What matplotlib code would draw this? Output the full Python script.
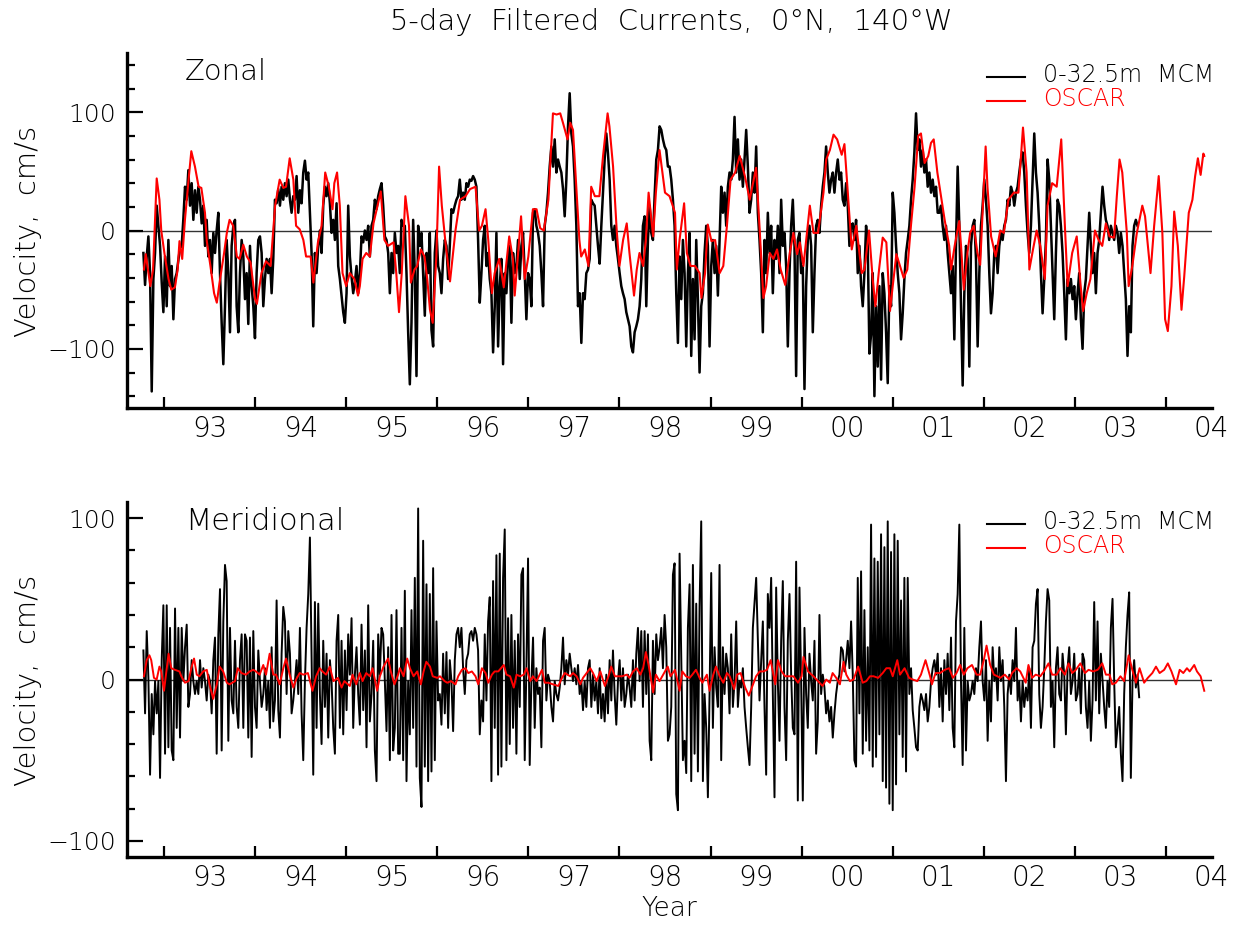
import numpy as np
import matplotlib
matplotlib.use("Agg")
from matplotlib import pyplot as plt
from matplotlib.lines import Line2D

plt.rcParams['font.family'] = ['DejaVu Sans']
plt.rcParams['font.weight'] = 'light'

# 0-32.5m MCM series, regular time step starting at MCM_T0 (decimal years)
MCM_T0 = 1992.274
MCM_STEP = 0.01828

zonal_mcm = [
    -19, -46, -22, -5, -36, -136, -41, -19, 21, 4, -13, -44, -69, -22, -64, -8, -47, -30, -75, -41, -36,
    -25, -15, -13, 10, 37,
    26, 51, 21, 40, 9, 34, 15, 37, 26, 6, 21, -13, 9, -22, -8, -36, -2, -19, 0, 15,
    -36, -78, -113, -64, -8, -36, -86, -13, 4, 9, -64, -86, -36, -8, -22, -58, -36, -79, -13, -47,
    -64, -91, -36, -8, -5, -19, -64, -41, -24, -36, -24, -53, -24, 26, 23, 35, 21, 37, 26, 40,
    29, 43, 26, 15, 29, 26, 46, 15, 34, 23, 49, 59, 43, 49, 15, -19, -81, -19, -36, -13,
    0, -19, 21, 37, 29, 40, 23, -2, 9, -8, 23, -30, -41, -55, -69, -78, -53, 21, -22, -39,
    -53, -44, -30, -53, -36, -5, -10, 0, -8, 4, -22, 4, 9, 26, 18, 29, 35, 40, 21, -5,
    -8, -19, -53, -19, -36, -2, -19, -13,
    -36, 9, 4, 4, -36, -86, -130, -78, 9, -36, -123, 4, -13, -2, -36, -72, -19, -36, -2, -84,
    -98, -19, 0, -30, -36, -53, -24, -8, -13, -41, -13, 18, 15, 21, 26, 29, 43, 26, 32, 26,
    40, 37, 43, 42, 46, 43, 37, -8, -61, -36, -8, 4, -30, -19, -41, -53, -103, -64, -2, -98,
    -47, -24, -113, -36, -53, -24, -13, -78, -19, -36, -30, -8, -41, -13, -2, -36, -75, -36, -41, -64,
    15, 18, 4, -2, -13, -36, -64, 4, 15, 32, 54, 71, 54, 77, 49, 60, 54, 49, 35, 12,
    43, 88, 116, 82, 71, 43, 4, -64, -53, -95, -53, -58, -36, -33, -24, 26, 23, 21, 4, -13,
    -28, 4, 32, 60, 82, 65, 43, 4, -8, 4, -13, -24, -36, -47, -53, -58, -69, -75, -81, -98,
    -103, -86, -81, -75, -64, -41, 4, 12, -64, -8, 21, -2, -8, 29, 60, 68, 88, 85, 77, 71,
    68, 54,
    54, 43, 26, 4, -53, -95, -22, -58, -8, -36, -98, -36, -2, -106, -41, -92, -8, -58, -120, -64,
    -53, -19, 4, -13, -98, -30, -8, -36, -13, -55, -8, 37, 15, 32, 4, 37, 49, 43, 60, 96,
    49, 77, 43, 60, 37, 60, 85, 54, 15, 26, 49, 32, 71, 15, -8, -36, -86, -8, -36, 15,
    -19, 4, -53, -8, -24, 4, -36, 26, -13, -2, -30, -98, -36, 4, 26, -13, -123, -8, -2, -36,
    -30, -134, -47, -8, 4, -13, -86, -36, 4, 9, -2, 21, 37, 49, 71, 49, 32, 43, 49, 32,
    49, 60, 43, 49, 26, 21, 40, 21, -13, 4, 6, -8, 9, -36, -13, -47, -64, -36, 4, -13,
    -104, -88, -36, -140, -64, -115, -47, -126, -36, -53, -86, -129, -47, -64, 32, 15, -13, -36, -53, -92,
    -70, -41, -19, -8, 4, 26, 43, 66, 99, 68, 77, 54, 68, 49, 60, 37, 49, 32, 43, 29,
    37, 15,
    15, 21, 4, -8, 4, -19, -36, -53, -30, -92, -13, 54, 4, -64, -131, -53, -13, -24, -115, -13,
    4, 9, -24, -98, -36, 4, 21, 43, 26, 4, -36, -70, -53, -19, -13, -36, -13, -2, -8, 4,
    9, 26, 21, 37, 32, 21, 32, 37, 49, 60, 66, 49, 21, -2, -19, 4, 43, 82, 49, 32,
    4, -36, -70, -41, -8, 60, 43, 4, -36, -75, -19, 26, 21, 4, -19, -53, -92, -41, -53, -41,
    -58, -47, -75, -53, -36, -75, -100, -53, -41, -13, 15, -13, -36, -19, -53, -19, -8, 15, 37, 21,
    9, 4, -8, 4, -2, -8, 4, -2, -19, -2, -13, -36, -58, -106, -64, -86, -13, 4, 9, 4,
]

merid_mcm = [
    18, -21, 30, 1, -59, -9, -34, -1, -21, -1, -61, 12, 46, -46, 46, -42, 32, -44, -50, 44,
    -30, 32, -36, 32, -1, 20, 34, -17, -9, 12, -1, -9, -1, -9, 12, -5, 7, -1, -13, 3,
    -1, -21, 12, 26, -46, 28, 56, -44, 36, 71, 61, -38, 32, -13, -21, 24, -17, -30, 12, 28,
    -30, 28, 24, -36, 26, -48, 30, -17, -30, 18, -1, -17, -9, 7, -19, -1, -30, 20, -26, -13,
    49, -19, -36, 16, 45, 36, -9, 30, 16, -21, -13, -1, 12, -9, 32, -21, -50, -1, 32, 53,
    88, 12, -59, 48, -30, 47, -9, -40, 24, -17, 16, -36, 12, -1, -30, -46, 24, 40, -30, 24,
    -34, 18, -19, 28, 3, 38, -30, 3, 20, -9, -28, 34, -19, 18, -42, 46, -26, -9, 24, -44,
    -63, 28, 3, 32, 28, -1, -32, 20, -50, 40, -44, -30, 43, -46,
    -46, 32, -50, 55, -63, -1, -34, 43, -30, 63, -54, 106, -61, -79, 86, -54, 59, -63, 53, -57,
    69, -50, 36, -13, -9, -28, 16, -21, 17, -30, 12, -1, -32, 12, 28, 32, 20, 32, 7, -9,
    12, 16, 28, 30, 24, 32, 28, 18, -34, -13, -26, 28, -13, 36, 51, -63, 61, -30, 77, -59,
    78, -54, 63, 93, -50, 38, -40, 40, -30, 24, -46, 28, -17, 65, 69, -50, 7, 75, -53, -1,
    26, -30, 7, -9, -5, -42, 24, 32, -13, 3, -1, -17, -26, -1, -9, -13, -5, 7, 26, -3,
    12, 3, 16, 7, -1, 7, -3, 9, -9, -1, -19, -1, -17, 7, 12, -17, 3, -13, -1, -21,
    7, -24, -9, -26, 3, -21, 12, -13, 18, -9, -28, -1, 12, -13, 7, -17, -9, 3, -5, -17,
    12, -13, 16, 32, -1, 30, -17, 30, -9, 28, -38, -50, 24, -9, 28, 12, 20, 32, 7, 40,
    20, -38,
    -34, -17, 65, 72, -71, -81, 78, 12, -50, -38, -58, 32, 59, -63, 71, -46, 47, -57, 45, 98,
    -63, -9, -30, -73, -9, 66, -30, 20, -5, -17, 71, -50, 20, -9, 16, 7, -21, 28, -17, -1,
    36, -17, -1, -5, 7, -17, -30, -42, -53, -17, 32, 47, 63, 24, -13, 12, 36, -17, -59, 53,
    32, 63, -9, -73, 57, -1, -38, 24, 61, -17, -50, 24, 53, 3, -30, -34, 73, -75, 57, -1,
    -75, 32, -9, -30, 16, -1, -13, 24, -46, -26, 40, -9, 3, -5, -21, -13, -26, -17, -36, -21,
    -9, -1, 3, 20, 18, 5, 12, 24, 7, 36, 3, -50, -54, 63, -21, 67, -46, 43, -38, 20,
    -44, 96, -54, 75, -48, 73, -34, 90, -63, 82, -67, 98, -77, 79, -81, 90, -65, 86, -34, 49,
    -48, 63, -57, 63, -9, 7, -19, -30, -42, -44, -17, -9, -13, -19, -9, -26, -17, -1, 7, 12,
    3, 16,
    -17, 7, -26, 12, -9, 16, -19, 26, -30, -42, 36, 53, 96, -1, -53, 32, -44, -1, -13, -9,
    -1, -9, 7, -1, 20, 36, -1, -13, 12, -38, -1, -26, 20, -1, 7, -13, 20, -1, 12, -17,
    -63, -9, 3, -9, 12, -1, 32, -13, -1, -26, -1, -17, -5, -13, 7, -30, 20, 24, 47, 56,
    -9, -30, -17, 7, 36, 56, 49, -17, -1, -42, 7, 20, -9, -13, 16, 3, -34, 7, 20, -9,
    -1, 16, -13, -9, 7, -21, 16, 12, -17, -30, -1, -38, -13, 48, -13, 36, -21, 16, -1, -17,
    -30, -1, -17, 32, 50, -1, -42, -30, -17, -46, -63, -9, 20, 40, 54, -61, -1, 12, -5, 3,
    -11,
]

# OSCAR series (decimal year, cm/s)
zonal_oscar_t = [
    1992.28, 1992.30, 1992.33, 1992.35, 1992.38, 1992.42, 1992.45, 1992.47, 1992.51, 1992.55,
    1992.58, 1992.62, 1992.65, 1992.67, 1992.70, 1992.73, 1992.77, 1992.80, 1992.84, 1992.88,
    1992.91, 1992.95, 1992.97, 1993.01, 1993.05, 1993.08, 1993.11, 1993.16, 1993.19, 1993.22,
    1993.26, 1993.30, 1993.33, 1993.37, 1993.41, 1993.45, 1993.50, 1993.52, 1993.57, 1993.62,
    1993.67, 1993.72, 1993.77, 1993.81, 1993.84, 1993.88, 1993.92, 1993.95, 1993.99, 1994.03,
    1994.06, 1994.11, 1994.14, 1994.19, 1994.23, 1994.27, 1994.31, 1994.35, 1994.37, 1994.40,
    1994.43, 1994.46, 1994.50, 1994.54, 1994.59, 1994.63, 1994.65, 1994.68, 1994.72, 1994.76,
    1994.80, 1994.85, 1994.88, 1994.92, 1994.96,
    1995.02, 1995.05, 1995.08, 1995.11, 1995.15, 1995.19, 1995.21, 1995.25, 1995.28, 1995.32,
    1995.36, 1995.39, 1995.42, 1995.45, 1995.49, 1995.52, 1995.55, 1995.59, 1995.64, 1995.70,
    1995.75, 1995.81, 1995.86, 1995.92, 1995.96, 1995.99, 1996.03, 1996.06, 1996.10, 1996.13,
    1996.18, 1996.23, 1996.29, 1996.33, 1996.35, 1996.42, 1996.46, 1996.50, 1996.55, 1996.59,
    1996.63, 1996.67, 1996.72, 1996.77, 1996.81, 1996.85, 1996.88, 1996.93, 1996.96, 1996.99,
    1997.03, 1997.06, 1997.08, 1997.12, 1997.16, 1997.19, 1997.23, 1997.28, 1997.32, 1997.37,
    1997.39, 1997.43, 1997.47, 1997.50, 1997.54, 1997.58, 1997.61, 1997.66, 1997.69, 1997.72,
    1997.76, 1997.79, 1997.82, 1997.87, 1997.90, 1997.94,
    1998.00, 1998.05, 1998.11, 1998.13, 1998.16, 1998.21, 1998.24, 1998.28, 1998.33, 1998.38,
    1998.40, 1998.44, 1998.47, 1998.51, 1998.55, 1998.60, 1998.64, 1998.68, 1998.72, 1998.77,
    1998.82, 1998.88, 1998.93, 1999.00, 1999.04, 1999.08, 1999.11, 1999.15, 1999.19, 1999.23,
    1999.27, 1999.32, 1999.37, 1999.41, 1999.45, 1999.48, 1999.52, 1999.59, 1999.63, 1999.68,
    1999.74, 1999.77, 1999.81, 1999.85, 1999.89, 1999.94, 1999.97, 2000.01, 2000.05, 2000.10,
    2000.16, 2000.19, 2000.24, 2000.28, 2000.31, 2000.35, 2000.39, 2000.43, 2000.47, 2000.50,
    2000.54, 2000.58, 2000.62, 2000.66, 2000.70, 2000.74, 2000.78, 2000.81, 2000.85, 2000.89,
    2000.92, 2000.95, 2000.99, 2001.03, 2001.07, 2001.12, 2001.14, 2001.18, 2001.23, 2001.25,
    2001.28, 2001.32, 2001.35, 2001.39, 2001.43, 2001.46, 2001.49, 2001.52, 2001.54, 2001.58,
    2001.63, 2001.68, 2001.72, 2001.77, 2001.83, 2001.88, 2001.93, 2001.97, 2002.00, 2002.04,
    2002.08, 2002.12, 2002.17, 2002.20, 2002.25, 2002.30, 2002.35, 2002.39, 2002.42, 2002.47,
    2002.52, 2002.56, 2002.59, 2002.63, 2002.67, 2002.72, 2002.76, 2002.80, 2002.84, 2002.88,
    2002.93, 2002.96, 2002.99, 2003.02, 2003.07, 2003.09, 2003.13, 2003.18, 2003.24, 2003.27,
    2003.33, 2003.37, 2003.42, 2003.46, 2003.49, 2003.52, 2003.56, 2003.59, 2003.63, 2003.67,
    2003.70, 2003.75, 2003.79, 2003.82, 2003.85, 2003.88, 2003.91, 2003.92,
]
zonal_oscar = [
    -33, -20, -36, -47, -33, 44, 26, 0, -22, -41, -50, -48, -33, -9, -24, 9, 43, 67, 54, 37,
    36, 15, -9, -30, -53, -61, -44, -19, -2, 9, 4, -22, -24, -12, -22, -27, -58, -62, -36, -26,
    -30, 21, 43, 36, 37, 61, 43, 4, 1, -8, -22, -22, -44, -10, 4, 49, 37, 18, 40, 49,
    21, -36, -47, -36, -41, -55, -47, -24, -19, -22, 6, 23, 33, -8, -13,
    -10, -36, -69, -36, 29, 4, -44, -33, -30, -16, -22, -41, -67, -78, -22, 54, 21, -10, -43, 0,
    26, 29, 35, 37, 0, 4, 18, -8, -53, -36, -24, -48, -5, -24, -55, 12, -41, -22, 18, 18,
    2, 0, 26, 99, 98, 99, 91, 77, 91, 85, 32, -8, -22, -16, -30, 37, 29, 29, 63, 99,
    88, 54, 0, -30, -8, 6, -19, -55, -33, -19, -30, -8, 32, -5, 32, 68,
    32, 29, 15, -33, -8, 23, -19, -30, -30, -36, -57, -36, 5, -9, -8, -36, -30, 4, 43, 49,
    63, 45, 26, 53, 0, -57, -47, -19, -24, -16, -33, -46, -19, -2, -20, -10, -30, 21, -2, -2,
    32, 60, 68, 81, 77, 64, 73, 29, -16, 4, -36, -33, 0, -41, -64, -33, -6, -10, -68, -47,
    -20, -30, -40, -33, 4, 37, 80, 82, 57, 63,
    74, 77, 49, 29, 9, -13, -33, -13, 8, -13, -50, -19, -2, 4, -19, -29, 21, 71, 37, -5,
    -22, 0, -2, 26, 32, 32, 87, 49, -33, -16, 0, -13, -41, 21, 40, 37, 77, 4, -47, -19,
    -5, -44, -68, -53, -41, 0, -8, -13, 6, -5, -6, 29, 60, 49, -2, -47, -30, -2, 21, 12,
    -36, 4, 46, -2, -75, -85, -47, 16, -13, -67, -39, 15, 26, 46, 61, 47, 65, 63,
]

merid_oscar_t = [
    1992.28, 1992.31, 1992.34, 1992.36, 1992.39, 1992.42, 1992.45, 1992.47, 1992.50, 1992.53,
    1992.55, 1992.58, 1992.62, 1992.67, 1992.69, 1992.73, 1992.77, 1992.80, 1992.83, 1992.86,
    1992.89, 1992.93, 1992.97, 1993.00, 1993.04, 1993.08, 1993.11, 1993.15, 1993.19, 1993.22,
    1993.28, 1993.31, 1993.35, 1993.40, 1993.44, 1993.48, 1993.51, 1993.55, 1993.59, 1993.62,
    1993.66, 1993.70, 1993.73, 1993.77, 1993.81, 1993.84, 1993.88, 1993.92, 1993.95, 1993.99,
    1994.03, 1994.08, 1994.13, 1994.17, 1994.21, 1994.24, 1994.28, 1994.32, 1994.36, 1994.41,
    1994.45, 1994.48, 1994.54, 1994.57, 1994.61, 1994.65, 1994.68, 1994.72, 1994.76, 1994.79,
    1994.84, 1994.87, 1994.91, 1994.96, 1994.99, 1995.03, 1995.07,
    1995.09, 1995.13, 1995.17, 1995.20, 1995.24, 1995.28, 1995.32, 1995.35, 1995.38, 1995.42,
    1995.45, 1995.50, 1995.53, 1995.58, 1995.61, 1995.65, 1995.70, 1995.73, 1995.77, 1995.81,
    1995.84, 1995.88, 1995.92, 1995.95, 1995.99, 1996.03, 1996.06, 1996.10, 1996.13, 1996.17,
    1996.23, 1996.26, 1996.30, 1996.34, 1996.37, 1996.41, 1996.45, 1996.48, 1996.52, 1996.55,
    1996.59, 1996.65, 1996.68, 1996.72, 1996.77, 1996.83, 1996.86, 1996.90, 1996.96, 1996.99,
    1997.03, 1997.07, 1997.10, 1997.14, 1997.18, 1997.21, 1997.25, 1997.29, 1997.34, 1997.38,
    1997.41, 1997.45, 1997.49, 1997.53, 1997.58, 1997.61, 1997.65, 1997.69, 1997.73, 1997.76,
    1997.79, 1997.82, 1997.87, 1997.90, 1997.94, 1997.98, 1998.03,
    1998.06, 1998.11, 1998.16, 1998.19, 1998.23, 1998.27, 1998.30, 1998.34, 1998.38, 1998.41,
    1998.46, 1998.49, 1998.53, 1998.56, 1998.60, 1998.64, 1998.68, 1998.71, 1998.76, 1998.79,
    1998.83, 1998.88, 1998.92, 1998.96, 1999.00, 1999.04, 1999.08, 1999.12, 1999.16, 1999.21,
    1999.24, 1999.28, 1999.32, 1999.36, 1999.41, 1999.46, 1999.50, 1999.52, 1999.57, 1999.63,
    1999.68, 1999.73, 1999.77, 1999.81, 1999.84, 1999.88, 1999.92, 1999.96, 1999.99, 2000.03,
    2000.07, 2000.12, 2000.17, 2000.21, 2000.25, 2000.29, 2000.34, 2000.39, 2000.43, 2000.47,
    2000.50, 2000.55, 2000.58, 2000.63, 2000.68, 2000.72, 2000.77, 2000.81, 2000.86, 2000.91,
    2000.93, 2000.97, 2001.02,
    2001.07, 2001.12, 2001.16, 2001.20, 2001.24, 2001.28, 2001.32, 2001.37, 2001.42, 2001.46,
    2001.50, 2001.53, 2001.57, 2001.61, 2001.65, 2001.68, 2001.73, 2001.78, 2001.81, 2001.86,
    2001.90, 2001.96, 2001.99, 2002.03, 2002.07, 2002.12, 2002.16, 2002.21, 2002.25, 2002.30,
    2002.34, 2002.39, 2002.43, 2002.47, 2002.51, 2002.56, 2002.61, 2002.65, 2002.70, 2002.75,
    2002.80, 2002.84, 2002.88, 2002.91, 2002.95, 2003.00, 2003.04, 2003.09, 2003.13, 2003.17,
    2003.21, 2003.26, 2003.30, 2003.35, 2003.39, 2003.43, 2003.48, 2003.52, 2003.56, 2003.61,
    2003.65, 2003.69, 2003.73, 2003.76, 2003.81, 2003.84, 2003.88, 2003.92,
]
merid_oscar = [
    2, 12, 15, 12, 1, 0, 8, 5, -7, 7, 16, 7, 6, 5, 2, -2, -1, 7, 13, 3,
    2, 5, 6, -3, -12, -3, 8, 5, -2, -3, -1, 7, 4, 3, 5, 6, 5, 3, 9, 3,
    16, 3, 3, -3, 7, 13, 3, -5, 0, 4, 3, 4, -7, 2, 7, 5, 3, 8, -1, 1,
    -5, -1, -4, 3, -3, 4, -1, 4, 2, 7, -7, 2, 8, 13, 5, -3, 3,
    7, 2, 13, 7, 2, 5, -3, 5, 11, 8, 2, 1, 2, -1, -2, -1, -3, 2, 6, 7,
    4, 5, 2, -3, 7, 4, -2, 3, 5, 5, 9, 3, 2, -5, 3, 2, 3, 7, -1, 2,
    -1, 6, -2, -2, -3, -4, 0, 4, 2, 4, 2, -3, 1, 4, 7, 4, -1, 5, -4, 2,
    8, 2, 2, 2, 3, 1, 5, 7, 3, 7, 17, 9, -8, 3, -1, 3, 8,
    2, 6, -7, 5, 2, 1, 3, 6, 1, -2, 3, -7, 3, 8, 2, -2, 4, 2, -6, 3,
    4, -5, -10, -4, 2, 5, 5, 6, 12, -3, 12, 5, 2, 2, 2, -2, 2, 14, 5, 2,
    -1, -4, 0, -2, 4, 1, -3, 11, 3, -1, 0, 8, -2, -1, 2, 2, 1, 4, 7, 7,
    2, 12, 3, 7, 1, 0, -1, 3, 12, 2, -3, 4, 4,
    6, 7, 1, 4, 9, 3, 7, 9, 3, 3, 12, 21, 9, 3, 2, 1, 3, 0, 4, 7,
    5, -2, 9, 1, 3, 2, 5, 10, 3, 3, 7, 3, 10, 4, 6, 10, 4, 6, 5, 6,
    10, 3, 3, -3, -2, 2, -1, 15, 6, -2, 7, -2, 1, 4, 8, 4, 6, 10, 5, -3,
    6, 4, 7, 5, 9, 5, 2, -7,
]

year_labels = ['93', '94', '95', '96', '97', '98', '99', '00', '01', '02', '03', '04']
label_years = list(range(1993, 2005))
boundary_years = [y - 0.5 for y in label_years]

W, H = 1244, 926
fig = plt.figure(figsize=(W / 100, H / 100), dpi=100)
ax1 = fig.add_axes([127 / W, 1 - 408 / H, 1085 / W, 355 / H])
ax2 = fig.add_axes([127 / W, 1 - 857 / H, 1085 / W, 355 / H])

t_zon = MCM_T0 + MCM_STEP * np.arange(len(zonal_mcm))
t_mer = MCM_T0 + MCM_STEP * np.arange(len(merid_mcm))

ax1.axhline(0, color='#333333', lw=1.0, zorder=1)
ax1.plot(t_zon, zonal_mcm, color='black', lw=1.8, zorder=2)
ax1.plot(zonal_oscar_t, zonal_oscar, color='red', lw=1.5, zorder=3)

ax2.axhline(0, color='#333333', lw=1.0, zorder=1)
ax2.plot(t_mer, merid_mcm, color='black', lw=1.4, zorder=2)
ax2.plot(merid_oscar_t, merid_oscar, color='red', lw=1.4, zorder=3)

for ax in (ax1, ax2):
    for s in ('top', 'right'):
        ax.spines[s].set_visible(False)
    for s in ('left', 'bottom'):
        ax.spines[s].set_linewidth(2.4)
    ax.set_xticks(boundary_years)
    ax.set_xticklabels([])
    ax.set_xticks(label_years, minor=True)
    ax.set_xticklabels(year_labels, minor=True)
    ax.tick_params(axis='x', which='major', direction='in', length=8, width=1.6)
    ax.tick_params(axis='x', which='minor', length=0, pad=5, labelsize=20)
    ax.set_yticks([-100, 0, 100])
    ax.set_yticks(np.arange(-140, 141, 20), minor=True)
    ax.tick_params(axis='y', which='major', direction='in', length=11.5, width=1.6,
                   pad=8, labelsize=18)
    ax.tick_params(axis='y', which='minor', direction='in', length=6, width=1.6)
    ax.set_xlim(1992.094, 2004.005)

# limits set after the ticks so the minor ticks do not widen them
ax1.set_ylim(-150, 150)
ax2.set_ylim(-110, 110)

fig.text(671 / W, 1 - 22 / H, '5-day  Filtered  Currents,  0°N,  140°W', ha='center',
         va='center', fontsize=21)
fig.text(185 / W, 1 - 72 / H, 'Zonal', ha='left', va='center', fontsize=21)
fig.text(185 / W, 1 - 521 / H, 'Meridional', ha='left', va='center', fontsize=22)
fig.text(28 / W, 1 - 231 / H, 'Velocity,  cm/s', rotation=90, ha='center', va='center',
         fontsize=21)
fig.text(28 / W, 1 - 680 / H, 'Velocity,  cm/s', rotation=90, ha='center', va='center',
         fontsize=21)
fig.text(669 / W, 1 - 909 / H, 'Year', ha='center', va='center', fontsize=19)

# hand-drawn legends at upper right
for y_black, y_red in ((77, 101), (524, 548)):
    fig.add_artist(Line2D([987 / W, 1025 / W], [1 - y_black / H] * 2, color='black', lw=1.5))
    fig.add_artist(Line2D([987 / W, 1025 / W], [1 - y_red / H] * 2, color='red', lw=1.5))
    fig.text(1043 / W, 1 - (y_black - 2) / H, '0-32.5m  MCM', ha='left', va='center',
             fontsize=17, color='black')
    fig.text(1043 / W, 1 - (y_red - 2) / H, 'OSCAR', ha='left', va='center',
             fontsize=17, color='red')

fig.savefig('out.png', dpi=100)
